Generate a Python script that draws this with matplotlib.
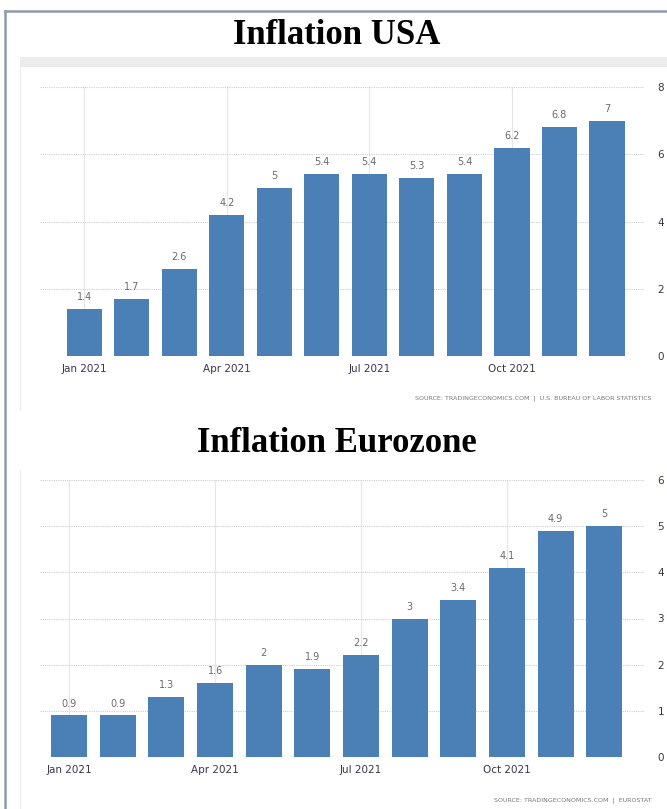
import matplotlib.pyplot as plt
from matplotlib.patches import Rectangle
from matplotlib.lines import Line2D

months = ['Jan', 'Feb', 'Mar', 'Apr', 'May', 'Jun', 'Jul', 'Aug', 'Sep', 'Oct', 'Nov', 'Dec']
usa = [1.4, 1.7, 2.6, 4.2, 5, 5.4, 5.4, 5.3, 5.4, 6.2, 6.8, 7]
euro = [0.9, 0.9, 1.3, 1.6, 2, 1.9, 2.2, 3, 3.4, 4.1, 4.9, 5]
tick_pos = [0, 3, 6, 9]
tick_labels = ['Jan 2021', 'Apr 2021', 'Jul 2021', 'Oct 2021']

bar_color = '#4a80b6'
W, H = 667, 809

fig = plt.figure(figsize=(6.67, 8.09), dpi=100)

# outer frame of the screenshot
fig.add_artist(Line2D([5 / W, 5 / W], [0, 1 - 11 / H], color='#8d9baa', lw=1.8))
fig.add_artist(Line2D([5 / W, 1], [1 - 11 / H, 1 - 11 / H], color='#8d9baa', lw=1.8))
# light grey header bar above the first chart
fig.add_artist(Rectangle((20 / W, 1 - 67 / H), 1, 10 / H, color='#ececec', lw=0))
fig.add_artist(Line2D([20 / W, 20 / W], [1 - 410 / H, 1 - 67 / H], color='#efefef', lw=1))
fig.add_artist(Line2D([20 / W, 20 / W], [0, 1 - 470 / H], color='#efefef', lw=1))


def draw(rect, values, ymax, xlim, title, title_y, source, source_y):
    ax = fig.add_axes(rect)
    x = range(len(values))
    bars = ax.bar(x, values, width=0.74, color=bar_color, zorder=3)
    for b, v in zip(bars, values):
        ax.annotate(f'{v:g}', (b.get_x() + b.get_width() / 2, v), xytext=(0, 5),
                    textcoords='offset points', ha='center', va='bottom',
                    fontsize=7, color='#6b6b6b')
    ax.set_ylim(0, ymax)
    ax.set_xlim(*xlim)
    ax.set_yticks(range(0, ymax + 1, 2 if ymax == 8 else 1))
    ax.yaxis.tick_right()
    ax.tick_params(axis='y', length=0, pad=9, labelsize=7.5, labelcolor='#3b3350')
    ax.set_xticks(tick_pos, tick_labels)
    ax.tick_params(axis='x', length=0, pad=6, labelsize=7.5, labelcolor='#3b3350')
    ax.grid(axis='y', color='#cfcfcf', ls=(0, (1, 1)), lw=0.8, zorder=0)
    ax.grid(axis='x', color='#e6e6e6', ls='-', lw=0.8, zorder=0)
    for s in ax.spines.values():
        s.set_visible(False)
    fig.text(0.505, 1 - title_y / H, title, ha='center', va='center',
             fontsize=25, fontweight='bold', family='Liberation Serif')
    fig.text(652 / W, 1 - source_y / H, source, ha='right', va='center',
             fontsize=4.6, color='#7a7a7a')
    return ax


draw([40 / W, 1 - 356 / H, 605 / W, 269 / H], usa, 8, (-0.93, 11.8),
     'Inflation USA', 36, 'SOURCE: TRADINGECONOMICS.COM  |  U.S. BUREAU OF LABOR STATISTICS', 398)
draw([40 / W, 1 - 757 / H, 605 / W, 277 / H], euro, 6, (-0.6, 11.84),
     'Inflation Eurozone', 444, 'SOURCE: TRADINGECONOMICS.COM  |  EUROSTAT', 800)

plt.savefig('out.png', dpi=100)
